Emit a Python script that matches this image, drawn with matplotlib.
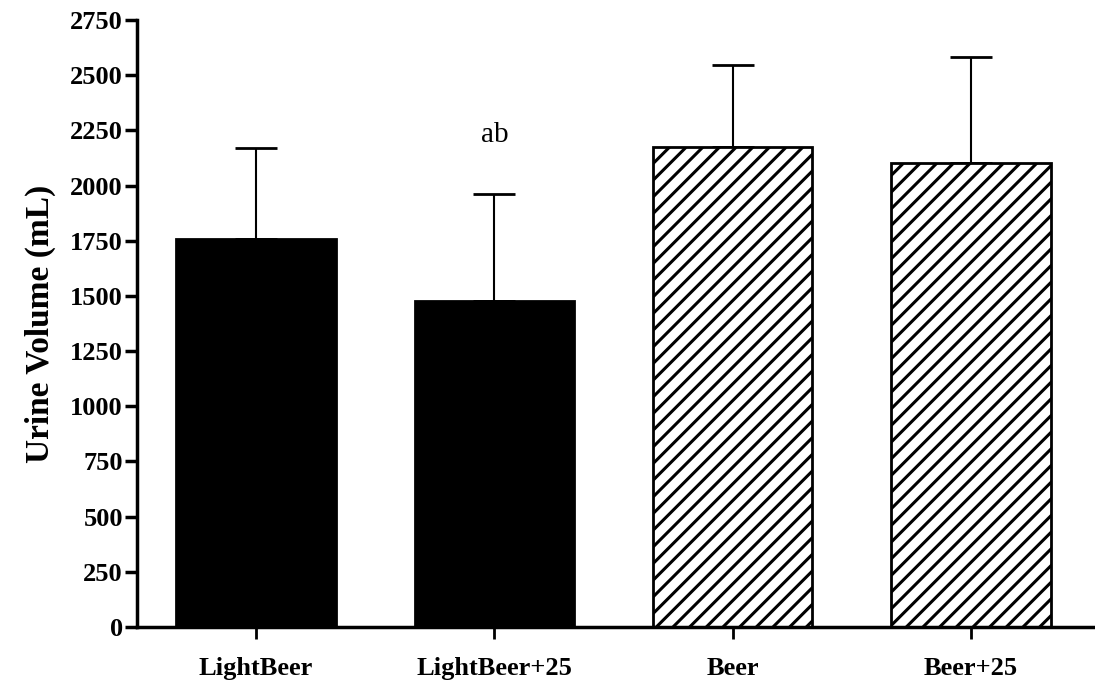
import matplotlib.pyplot as plt
import numpy as np

groups = ["LightBeer", "LightBeer+25", "Beer", "Beer+25"]
means = [1757, 1476, 2174, 2101]
sd_upper = [412, 485, 371, 480]
hatches = ["", "", "//", "//"]
fills = ["black", "black", "white", "white"]

plt.rcParams["font.family"] = ["Liberation Serif", "DejaVu Serif"]
plt.rcParams["hatch.linewidth"] = 2.2

fig = plt.figure(figsize=(10.95, 6.9), dpi=100)
ax = fig.add_axes([0.125, 0.0913, 0.875, 0.8797])

x = np.arange(len(groups))
ax.bar(x, means, width=0.668, color=fills, edgecolor="black",
       linewidth=2, hatch=hatches, zorder=2)
ax.errorbar(x, means, yerr=[np.zeros(len(x)), sd_upper], fmt="none",
            ecolor="black", elinewidth=1.5, capsize=15, capthick=2, zorder=1)

# significance mark over LightBeer+25
ax.text(1, 2228, "ab", ha="center", va="center", fontsize=21)

ax.set_xlim(-0.5, 3.52)
ax.set_ylim(0, 2750)
ax.set_yticks(np.arange(0, 2751, 250))
ax.set_xticks(x)
ax.set_xticklabels(groups, fontsize=19, fontweight="bold")
for lab in ax.get_yticklabels():
    lab.set_fontsize(19)
    lab.set_fontweight("bold")
ax.tick_params(axis="y", length=9, width=2.5, pad=1)
ax.tick_params(axis="x", length=8.5, width=2, pad=13)
ax.set_ylabel("Urine Volume (mL)", fontsize=24, fontweight="bold", labelpad=10)

for side in ["top", "right"]:
    ax.spines[side].set_visible(False)
ax.spines["left"].set_linewidth(2.5)
ax.spines["bottom"].set_linewidth(2.5)

fig.savefig("out.png", dpi=100)
